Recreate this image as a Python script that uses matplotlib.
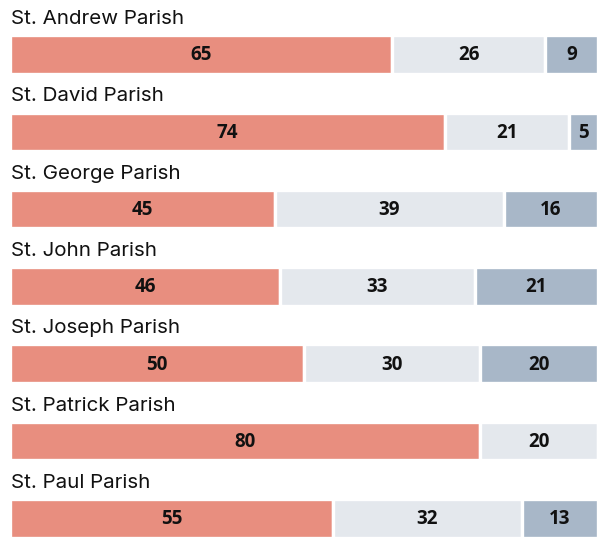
import numpy as np
import matplotlib.pyplot as plt

parishes = ['St. Andrew Parish', 'St. David Parish', 'St. George Parish', 'St. John Parish',
            'St. Joseph Parish', 'St. Patrick Parish', 'St. Paul Parish']
first = [65, 74, 45, 46, 50, 80, 55]
second = [26, 21, 39, 33, 30, 20, 32]
third = [9, 5, 16, 21, 20, 0, 13]

colors = ['#E88E7F', '#E4E8ED', '#A8B7C8']

fig = plt.figure(figsize=(5.98, 5.37), dpi=100)
ax = fig.add_axes([10 / 598, 0, 588 / 598, 1])

y = np.arange(len(parishes))
left = np.zeros(len(parishes))
for vals, c in zip([first, second, third], colors):
    vals = np.array(vals, dtype=float)
    ax.barh(y, vals, left=left, height=0.5, color=c, edgecolor='white', linewidth=2.4)
    for yi, l, v in zip(y, left, vals):
        if v > 0:
            ax.text(l + v / 2, yi + 0.01, f'{int(v)}', ha='center', va='center',
                    fontsize=13.5, fontweight='bold', family='Open Sans', color='#111111')
    left += vals

for yi, name in zip(y, parishes):
    ax.text(0.2, yi - 0.46, name, ha='left', va='center', fontsize=14.8,
            family='Inter', color='#111111')

ax.set_xlim(0, 100)
ax.set_ylim(6.24, -0.705)
ax.axis('off')

fig.savefig('out.png', dpi=100)
